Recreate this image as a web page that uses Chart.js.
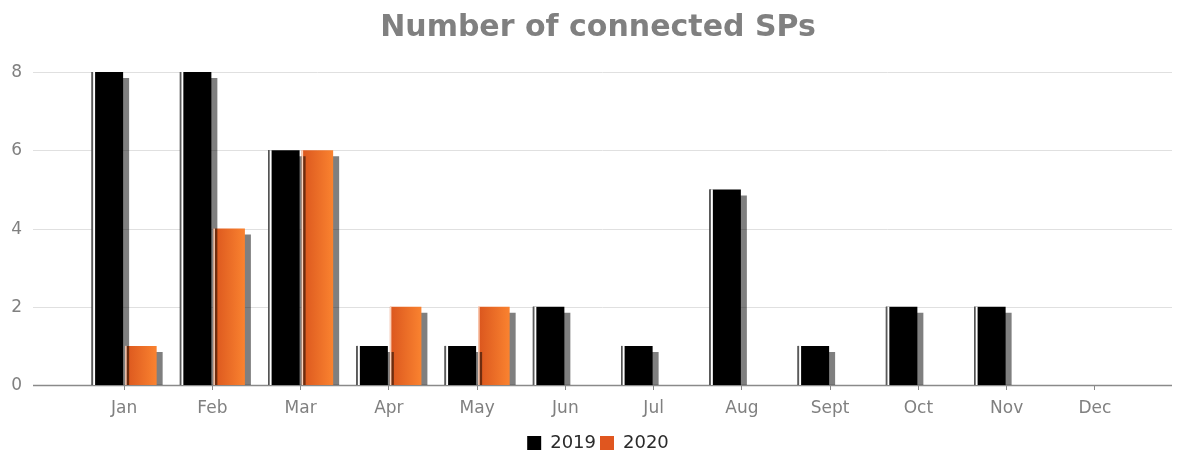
<!DOCTYPE html>
<html>
<head>
<meta charset="utf-8">
<script src="https://cdn.jsdelivr.net/npm/chart.js@4.4.0/dist/chart.umd.min.js"></script>
<style>
    html, body { margin: 0; padding: 0; background: #fff; }
    #wrap { width: 1183px; height: 450px; }
</style>
</head>
<body>
<div id="wrap"><canvas id="spChart"></canvas></div>
<script>
const months = ['Jan', 'Feb', 'Mar', 'Apr', 'May', 'Jun', 'Jul', 'Aug', 'Sept', 'Oct', 'Nov', 'Dec'];
const sps2019 = [8, 8, 6, 1, 1, 2, 1, 5, 1, 2, 2, null];
const sps2020 = [1, 4, 6, 2, 2, null, null, null, null, null, null, null];
const yTicks = [0, 2, 4, 6, 8];
const seriesNames = ['2019', '2020'];
const legendColors = ['#000000', '#e0561f'];

const CAT_PCT = 0.76;
const FONT = "'DejaVu Sans', Verdana, sans-serif";

// orange bars get a left-to-right gradient, built from the x scale
function orangeFill(c) {
    const chart = c.chart;
    const xs = chart.scales.x;
    if (!xs || c.type !== 'data') return '#e8651f';
    const mid = xs.getPixelForValue(c.dataIndex);
    const half = xs.width / months.length * CAT_PCT / 2;
    const g = chart.ctx.createLinearGradient(mid, 0, mid + half, 0);
    g.addColorStop(0, '#d9541d');
    g.addColorStop(1, '#fb8430');
    return g;
}

// grid lines and y labels run wider than the chart area, so draw them here
const gridPlugin = {
    id: 'fullGrid',
    beforeDatasetsDraw(chart) {
        const ctx = chart.ctx;
        const y = chart.scales.y;
        ctx.save();
        ctx.font = '17px ' + FONT;
        ctx.fillStyle = '#808080';
        ctx.textAlign = 'right';
        ctx.textBaseline = 'middle';
        yTicks.forEach(t => {
            const py = Math.round(y.getPixelForValue(t)) + 0.5;
            ctx.beginPath();
            ctx.moveTo(33, py);
            ctx.lineTo(1172, py);
            ctx.lineWidth = t === 0 ? 1.5 : 1;
            ctx.strokeStyle = t === 0 ? '#8a8a8a' : '#e0e0e0';
            ctx.stroke();
            ctx.fillText(String(t), 22, py);
        });
        ctx.restore();
        // drop shadow for the bars
        ctx.save();
        ctx.shadowColor = 'rgba(0,0,0,0.5)';
        ctx.shadowOffsetX = 6;
        ctx.shadowOffsetY = 6;
        ctx.shadowBlur = 0;
    },
    afterDatasetsDraw(chart) {
        const ctx = chart.ctx;
        ctx.restore();
        // left edge highlights
        chart.data.datasets.forEach((ds, di) => {
            chart.getDatasetMeta(di).data.forEach((bar, i) => {
                if (ds.data[i] == null) return;
                const left = bar.x - bar.width / 2;
                const h = bar.base - bar.y;
                if (di === 0) {
                    ctx.fillStyle = '#5a5a5a';
                    ctx.fillRect(left, bar.y, 1.5, h);
                    ctx.fillStyle = '#ffffff';
                    ctx.fillRect(left + 1.5, bar.y, 2, h);
                } else {
                    ctx.fillStyle = '#fcd3bd';
                    ctx.fillRect(left, bar.y, 1.5, h);
                }
            });
        });
    }
};

new Chart(document.getElementById('spChart'), {
    type: 'bar',
    data: {
        labels: months,
        datasets: [{
            label: seriesNames[0],
            data: sps2019,
            backgroundColor: '#000000'
        }, {
            label: seriesNames[1],
            data: sps2020,
            backgroundColor: orangeFill
        }]
    },
    options: {
        responsive: true,
        maintainAspectRatio: false,
        animation: false,
        events: [],
        datasets: {
            bar: { categoryPercentage: CAT_PCT, barPercentage: 0.94 }
        },
        layout: { padding: { left: 57, right: 44, top: 0, bottom: -12 } },
        plugins: {
            title: {
                display: true,
                text: 'Number of connected SPs',
                color: '#808080',
                font: { family: FONT, size: 30, weight: 'bold' },
                padding: { top: 10, bottom: 26 }
            },
            legend: {
                position: 'bottom',
                labels: {
                    boxWidth: 14,
                    boxHeight: 14,
                    padding: 4,
                    color: '#2a2a2a',
                    font: { family: FONT, size: 18 },
                    generateLabels(chart) {
                        return seriesNames.map((name, i) => ({
                            text: name,
                            fillStyle: legendColors[i],
                            strokeStyle: legendColors[i],
                            lineWidth: 0,
                            datasetIndex: i,
                            fontColor: '#2a2a2a'
                        }));
                    }
                }
            },
            tooltip: { enabled: false }
        },
        scales: {
            x: {
                grid: {
                    display: true,
                    drawOnChartArea: false,
                    drawTicks: true,
                    tickLength: 5,
                    offset: false,
                    color: '#888'
                },
                border: { display: false },
                afterFit(scale) { scale.height = 45; },
                ticks: {
                    color: '#808080',
                    font: { family: FONT, size: 17 },
                    padding: 8
                }
            },
            y: {
                min: 0,
                max: 8,
                grid: { display: false },
                border: { display: false },
                afterFit(scale) { scale.width = 23; },
                afterBuildTicks(scale) { scale.ticks = yTicks.map(v => ({ value: v })); },
                ticks: { display: false }
            }
        }
    },
    plugins: [gridPlugin]
});
</script>
</body>
</html>
